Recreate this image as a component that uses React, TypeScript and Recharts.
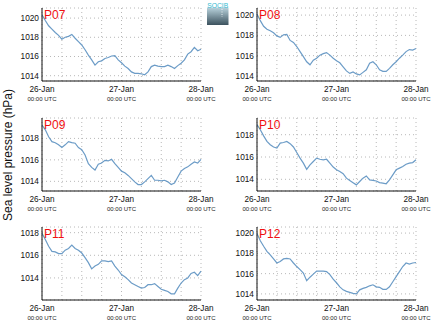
import { LineChart, Line, XAxis, YAxis, CartesianGrid } from "recharts";

// hours since 26-Jan 00:00 UTC
const HOURS = [
  0, 1, 2, 3, 4, 5, 6, 7, 8, 9, 10, 11, 12, 13, 14, 15, 16, 17, 18, 19, 20, 21,
  22, 23, 24, 25, 26, 27, 28, 29, 30, 31, 32, 33, 34, 35, 36, 37, 38, 39, 40,
  41, 42, 43, 44, 45, 46, 47, 48,
];
const X_TICKS = [0, 6, 12, 18, 24, 30, 36, 42, 48];
const DAY_HOURS = [0, 24, 48];
const DAY_LABELS = ["26-Jan", "27-Jan", "28-Jan"];
const TIME_LABEL = "00:00 UTC";

const P07 = [
  1020.35, 1019.75, 1019.2, 1018.85, 1018.5, 1018.2, 1017.8, 1018.0, 1018.1,
  1018.3, 1017.9, 1017.55, 1017.2, 1016.7, 1016.15, 1015.65, 1015.1, 1015.45,
  1015.55, 1015.8, 1015.9, 1016.05, 1016.1, 1015.65, 1015.35, 1015.0, 1014.75,
  1014.4, 1014.25, 1014.25, 1014.2, 1014.1, 1014.4, 1014.95, 1015.1, 1015.0,
  1014.95, 1014.95, 1015.1, 1014.95, 1014.75, 1015.05, 1015.3, 1015.65,
  1016.25, 1016.5, 1016.95, 1016.6, 1016.75,
];
const P08 = [
  1020.1, 1019.45, 1018.9, 1018.6, 1018.45, 1018.25, 1017.95, 1017.8, 1018.05,
  1018.1, 1017.5, 1017.3, 1016.9, 1016.4, 1015.9, 1015.4, 1015.1, 1015.55,
  1015.75, 1016.05, 1016.2, 1016.3, 1016.05, 1015.75, 1015.5, 1015.3, 1014.9,
  1014.5, 1014.25, 1014.4, 1014.2, 1014.1, 1014.35, 1014.6, 1015.25, 1015.4,
  1015.1, 1014.6, 1014.45, 1014.45, 1014.75, 1015.1, 1015.4, 1015.75, 1016.05,
  1016.4, 1016.6, 1016.55, 1016.7,
];
const P09 = [
  1019.25, 1018.8, 1018.15, 1017.7, 1017.6, 1017.4, 1017.15, 1017.4, 1017.7,
  1017.6, 1017.55, 1017.15, 1016.95, 1016.45, 1015.65, 1015.3, 1015.05, 1015.6,
  1015.7, 1015.95, 1015.9, 1016.05, 1015.65, 1015.3, 1014.95, 1014.8, 1014.55,
  1014.25, 1013.95, 1013.7, 1013.7, 1013.95, 1014.25, 1014.55, 1014.1, 1014.1,
  1014.05, 1014.1, 1013.95, 1013.7, 1013.85, 1014.4, 1014.95, 1015.2, 1015.35,
  1015.6, 1015.8, 1015.7, 1016.05,
];
const P10 = [
  1018.9, 1018.45, 1017.9, 1017.4, 1017.1, 1016.9, 1016.8, 1017.25, 1017.3,
  1017.4, 1017.2, 1016.9, 1016.4, 1015.9, 1015.45, 1014.9, 1015.3, 1015.6,
  1015.9, 1015.8, 1015.75, 1015.8, 1015.45, 1015.1, 1014.85, 1014.7, 1014.5,
  1014.1, 1013.9, 1013.7, 1013.5, 1013.8, 1014.1, 1014.3, 1013.95, 1013.9,
  1013.85, 1013.7, 1013.65, 1013.6, 1013.95, 1014.4, 1014.85, 1015.0, 1015.15,
  1015.35, 1015.45, 1015.5, 1015.75,
];
const P11 = [
  1017.95, 1017.4, 1016.8, 1016.35, 1016.3, 1016.15, 1016.15, 1016.45, 1016.6,
  1016.9, 1016.6, 1016.45, 1016.2, 1015.8, 1015.35, 1014.8, 1015.05, 1015.2,
  1015.5, 1015.5, 1015.45, 1015.5, 1015.05, 1014.7, 1014.3, 1014.1, 1013.85,
  1013.55, 1013.4, 1013.25, 1013.1, 1013.15, 1013.4, 1013.4, 1013.5, 1013.25,
  1013.0, 1012.9, 1012.8, 1012.6, 1012.6, 1013.1, 1013.55, 1013.85, 1014.0,
  1014.4, 1014.5, 1014.2, 1014.6,
];
const P12 = [
  1019.95, 1019.25, 1018.7, 1018.2, 1017.85, 1017.45, 1017.05, 1017.2, 1017.45,
  1017.5, 1017.45, 1017.05, 1016.7, 1016.4, 1016.05, 1015.3, 1015.65, 1015.95,
  1016.25, 1016.25, 1016.25, 1016.2, 1015.9, 1015.45, 1015.1, 1014.7, 1014.4,
  1014.25, 1014.15, 1014.05, 1014.0, 1014.4, 1014.55, 1014.65, 1014.8, 1014.9,
  1014.7, 1014.65, 1014.45, 1014.45, 1014.7, 1015.2, 1015.7, 1016.2, 1016.7,
  1017.05, 1016.95, 1017.05, 1017.1,
];

const FONT = "'Liberation Sans', Arial, Helvetica, sans-serif";
const LINE_COLOR = "#6c9cc7";
const GRID_COLOR = "#b8b8b8";

interface PanelProps {
  name: string;
  values: number[];
  domain: [number, number];
  yTicks: number[];
  left: number;
  top: number;
}

function TimeTick(props: any) {
  const { x, y, payload } = props;
  const idx = DAY_HOURS.indexOf(payload.value);
  if (idx < 0) return null;
  return (
    <g>
      <text x={x} y={y + 10.7} textAnchor="middle" fontSize={8.2} fill="#111" fontFamily={FONT}>
        {DAY_LABELS[idx]}
      </text>
      <text x={x} y={y + 19.8} textAnchor="middle" fontSize={6} fill="#222" fontFamily={FONT}>
        {TIME_LABEL}
      </text>
    </g>
  );
}

function Panel({ name, values, domain, yTicks, left, top }: PanelProps) {
  const data = HOURS.map((h, i) => ({ h, p: values[i] }));
  return (
    <div style={{ position: "absolute", left, top }}>
      <LineChart width={220} height={110} data={data} margin={{ top: 8, right: 19, bottom: 0, left: 0 }}>
        <CartesianGrid stroke={GRID_COLOR} strokeDasharray="1 3" />
        <XAxis
          dataKey="h"
          type="number"
          domain={[0, 48]}
          ticks={X_TICKS}
          height={29}
          tickSize={0}
          tickMargin={0}
          tickLine={false}
          axisLine={{ stroke: "#111", strokeWidth: 1 }}
          tick={<TimeTick />}
          interval={0}
        />
        <XAxis
          xAxisId="top"
          orientation="top"
          type="number"
          domain={[0, 48]}
          height={0}
          tick={false}
          tickLine={false}
          axisLine={{ stroke: "#222", strokeWidth: 1.2 }}
        />
        <YAxis
          type="number"
          domain={domain}
          ticks={yTicks}
          width={42}
          tickSize={0}
          tickMargin={3}
          tickLine={false}
          axisLine={{ stroke: "#111", strokeWidth: 1 }}
          tick={{ fontSize: 8.3, fill: "#111", fontFamily: FONT }}
          allowDataOverflow
          interval={0}
        />
        <YAxis
          yAxisId="right"
          orientation="right"
          type="number"
          domain={domain}
          width={0}
          tick={false}
          tickLine={false}
          axisLine={{ stroke: "#7a7a7a", strokeWidth: 2.5 }}
        />
        <Line
          dataKey="p"
          type="linear"
          stroke={LINE_COLOR}
          strokeWidth={1.2}
          dot={false}
          isAnimationActive={false}
        />
      </LineChart>
      <div
        style={{
          position: "absolute",
          left: 44,
          top: 8,
          color: "#f01010",
          fontFamily: FONT,
          fontSize: 12,
          lineHeight: "14px",
        }}
      >
        {name}
      </div>
    </div>
  );
}

export default function App() {
  return (
    <div
      style={{
        position: "absolute",
        left: 0,
        top: 0,
        width: 435,
        height: 327,
        background: "#fff",
        fontFamily: FONT,
      }}
    >
      <Panel name="P07" values={P07} domain={[1013.45, 1021.05]} yTicks={[1014, 1016, 1018, 1020]} left={0} top={0} />
      <Panel name="P08" values={P08} domain={[1013.5, 1020.7]} yTicks={[1014, 1016, 1018, 1020]} left={215} top={0} />
      <Panel name="P09" values={P09} domain={[1013.1, 1019.9]} yTicks={[1014, 1016, 1018]} left={0} top={110} />
      <Panel name="P10" values={P10} domain={[1012.95, 1019.5]} yTicks={[1014, 1016, 1018]} left={215} top={110} />
      <Panel name="P11" values={P11} domain={[1012.05, 1018.5]} yTicks={[1014, 1016, 1018]} left={0} top={219} />
      <Panel name="P12" values={P12} domain={[1013.4, 1020.6]} yTicks={[1014, 1016, 1018, 1020]} left={215} top={219} />

      <svg width={435} height={327} style={{ position: "absolute", left: 0, top: 0, pointerEvents: "none" }}>
        <defs>
          <linearGradient id="logoGrad" x1="0" y1="0" x2="0" y2="1">
            <stop offset="0%" stopColor="#b9d3dd" />
            <stop offset="100%" stopColor="#3c525e" />
          </linearGradient>
        </defs>
        <rect x={207} y={7.5} width={21.5} height={17.5} fill="url(#logoGrad)" />
        <text x={217.7} y={7.8} textAnchor="middle" fontSize={7} fill="#35b9d0" fontFamily={FONT} textLength={21} lengthAdjust="spacingAndGlyphs">
          SOCIB
        </text>
        <line x1={222} y1={9} x2={222} y2={17} stroke="#fff" strokeWidth={0.8} strokeDasharray="1 1.5" />
        <text
          x={0}
          y={0}
          transform="translate(11.5,155) rotate(-90)"
          textAnchor="middle"
          fontSize={12}
          fill="#111"
          fontFamily={FONT}
        >
          Sea level pressure (hPa)
        </text>
      </svg>
    </div>
  );
}
